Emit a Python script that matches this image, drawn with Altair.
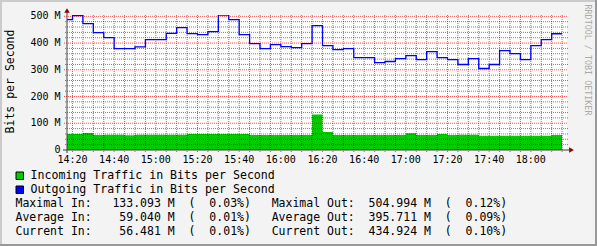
import altair as alt
import pandas as pd

# ---------------- data ----------------
time_labels = [
    "14:15", "14:20", "14:25", "14:30", "14:35", "14:40", "14:45", "14:50", "14:55",
    "15:00", "15:05", "15:10", "15:15", "15:20", "15:25", "15:30", "15:35", "15:40", "15:45", "15:50", "15:55",
    "16:00", "16:05", "16:10", "16:15", "16:20", "16:25", "16:30", "16:35", "16:40", "16:45", "16:50", "16:55",
    "17:00", "17:05", "17:10", "17:15", "17:20", "17:25", "17:30", "17:35", "17:40", "17:45", "17:50", "17:55",
    "18:00", "18:05", "18:10",
]
end_time = "18:15"

out_values = [
    487.6, 503.0, 472.7, 439.0, 420.5, 379.4, 379.4, 385.4, 413.0,
    413.0, 436.5, 457.8, 435.4, 431.7, 443.0, 505.0, 487.6, 431.7, 398.0, 379.4, 394.4,
    386.9, 383.2, 398.0, 465.3, 390.6, 375.7, 379.4, 345.9, 345.9, 327.2, 331.0, 342.1,
    353.3, 338.4, 368.3, 345.9, 338.4, 319.8, 342.1, 304.8, 319.8, 372.0, 360.8, 338.4,
    390.6, 413.0, 434.9,
]
in_values = [
    59.9, 59.9, 63.7, 56.2, 57.5, 57.5, 55.5, 57.5, 57.5,
    57.5, 57.5, 57.5, 59.9, 59.9, 59.9, 59.9, 59.9, 59.9, 56.2, 56.2, 56.2,
    56.2, 56.2, 56.2, 133.1, 67.4, 56.2, 56.2, 56.2, 56.2, 56.2, 56.2, 56.2,
    62.5, 56.2, 56.2, 59.9, 56.2, 57.5, 57.5, 53.6, 53.6, 53.6, 53.6, 53.6,
    53.6, 53.6, 56.5,
]

x_major_labels = ["14:20", "14:40", "15:00", "15:20", "15:40", "16:00",
                  "16:20", "16:40", "17:00", "17:20", "17:40", "18:00"]
y_major_values = [0, 100, 200, 300, 400, 500]
y_major_labels = ["0\u00a0\u00a0", "100 M", "200 M", "300 M", "400 M", "500 M"]

y_title = "Bits per Second"
watermark = "RRDTOOL / TOBI OETIKER"
legend_labels = ["Incoming Traffic in Bits per Second", "Outgoing Traffic in Bits per Second"]
legend_colors = ["#00CC00", "#0000FF"]

stat_names = ["Maximal", "Average", "Current"]
stat_in = [133.093, 59.040, 56.481]
stat_in_pct = [0.03, 0.01, 0.01]
stat_out = [504.994, 395.711, 434.924]
stat_out_pct = [0.12, 0.09, 0.10]

# ---------------- helpers ----------------
def to_min(s):
    h, m = s.split(":")
    return (int(h) - 14) * 60 + int(m)

FONT = "DejaVu Sans Mono"
W, H = 500, 135
x_domain = [17.36, 257.36]
y_domain = [0, 505]

series = pd.DataFrame({
    "t": [to_min(s) for s in time_labels] + [to_min(end_time)],
    "vin": in_values + [in_values[-1]],
    "vout": out_values + [out_values[-1]],
})

xs = alt.Scale(domain=x_domain, nice=False, zero=False)
ys = alt.Scale(domain=y_domain, nice=False, zero=False)

major_x = [to_min(s) for s in x_major_labels]
minor_x = [m for m in range(20, 256, 5) if m not in major_x]
major_y = [v for v in y_major_values if v > 0]
minor_y = [v for v in range(20, 501, 20) if v % 100 != 0]

one = pd.DataFrame({"a": [0]})

layers = []

# incoming area
layers.append(
    alt.Chart(series).mark_area(interpolate="step-after", color="#00CC00", clip=True).encode(
        x=alt.X("t:Q", scale=xs, axis=None),
        y=alt.Y("vin:Q", scale=ys, axis=None),
    )
)

# grid (drawn over the area)
grid_minor = dict(color="black", opacity=0.5, strokeWidth=1, strokeDash=[1, 1])
grid_major = dict(color="#FF0000", opacity=0.7, strokeWidth=1, strokeDash=[1, 1])

layers.append(
    alt.Chart(pd.DataFrame({"t": minor_x})).mark_rule(**grid_minor).encode(
        x=alt.X("t:Q", scale=xs, axis=None), y=alt.value(0), y2=alt.value(H + 2))
)
layers.append(
    alt.Chart(pd.DataFrame({"v": minor_y})).mark_rule(**grid_minor).encode(
        y=alt.Y("v:Q", scale=ys, axis=None), x=alt.value(-2), x2=alt.value(W + 1))
)
layers.append(
    alt.Chart(pd.DataFrame({"t": major_x})).mark_rule(**grid_major).encode(
        x=alt.X("t:Q", scale=xs, axis=None), y=alt.value(0), y2=alt.value(H + 3))
)
layers.append(
    alt.Chart(pd.DataFrame({"v": major_y})).mark_rule(**grid_major).encode(
        y=alt.Y("v:Q", scale=ys, axis=None), x=alt.value(-3), x2=alt.value(W + 1))
)

# outgoing line
layers.append(
    alt.Chart(series).mark_line(interpolate="step-after", color="#0000FF", strokeWidth=1.3, clip=True).encode(
        x=alt.X("t:Q", scale=xs, axis=None),
        y=alt.Y("vout:Q", scale=ys, axis=None),
    )
)

# axis lines and arrows
AX = "#404040"
ARROW = "#8B0000"
layers.append(alt.Chart(one).mark_rule(color=AX, strokeWidth=1).encode(
    x=alt.value(-4), x2=alt.value(W + 2), y=alt.value(H), y2=alt.value(H)))
layers.append(alt.Chart(one).mark_rule(color=AX, strokeWidth=1).encode(
    x=alt.value(0), x2=alt.value(0), y=alt.value(-5), y2=alt.value(H + 3)))
layers.append(alt.Chart(one).mark_point(shape="triangle-up", filled=True, color=ARROW, opacity=1, size=30).encode(
    x=alt.value(0), y=alt.value(-4.5)))
layers.append(alt.Chart(one).mark_point(shape="triangle-right", filled=True, color=ARROW, opacity=1, size=30).encode(
    x=alt.value(W + 4.5), y=alt.value(H)))

# tick labels
layers.append(
    alt.Chart(pd.DataFrame({"t": major_x, "label": x_major_labels})).mark_text(
        font=FONT, fontSize=10, color="black", align="center", baseline="alphabetic").encode(
        x=alt.X("t:Q", scale=xs, axis=None), y=alt.value(H + 13.3), text="label:N")
)
layers.append(
    alt.Chart(pd.DataFrame({"v": y_major_values, "label": y_major_labels})).mark_text(
        font=FONT, fontSize=10, color="black", align="right", baseline="middle").encode(
        y=alt.Y("v:Q", scale=ys, axis=None), x=alt.value(-6.5), text="label:N")
)

# axis title and watermark
layers.append(alt.Chart(one).mark_text(
    text=y_title, font=FONT, fontSize=11.5, color="black", angle=270, align="center", baseline="middle").encode(
    x=alt.value(-56), y=alt.value(66.5)))
layers.append(alt.Chart(one).mark_text(
    text=watermark, font=FONT, fontSize=8.4, color="#aaaaaa", angle=90, align="center", baseline="middle").encode(
    x=alt.value(521), y=alt.value(45)))

# legend rows
for i, (lab, col) in enumerate(zip(legend_labels, legend_colors)):
    yc = 161 + 14 * i
    layers.append(alt.Chart(one).mark_rect(stroke="black", strokeWidth=1, color=col).encode(
        x=alt.value(-51), x2=alt.value(-43.5), y=alt.value(yc - 4), y2=alt.value(yc + 3.5)))
    layers.append(alt.Chart(one).mark_text(
        text=lab, font=FONT, fontSize=11.6, color="black", align="left", baseline="middle").encode(
        x=alt.value(-36.5), y=alt.value(yc)))

# statistics lines
for i, name in enumerate(stat_names):
    line = (f"{name} In: {stat_in[i]:9.3f} M  ({stat_in_pct[i]:6.2f}%)   "
            f"{name} Out:{stat_out[i]:9.3f} M  ({stat_out_pct[i]:6.2f}%)")
    line = line.replace(" ", "\u00a0")
    layers.append(alt.Chart(one).mark_text(
        text=line, font=FONT, fontSize=11.5, color="black", align="left", baseline="middle").encode(
        x=alt.value(-51.5), y=alt.value(189 + 14 * i)))

# outer 3D border
layers.append(alt.Chart(one).mark_rule(color="#CBCBCB", strokeWidth=2).encode(
    x=alt.value(-67), x2=alt.value(530), y=alt.value(-14), y2=alt.value(-14)))
layers.append(alt.Chart(one).mark_rule(color="#CBCBCB", strokeWidth=2).encode(
    x=alt.value(-66), x2=alt.value(-66), y=alt.value(-15), y2=alt.value(231)))
layers.append(alt.Chart(one).mark_rule(color="#999999", strokeWidth=2).encode(
    x=alt.value(-67), x2=alt.value(530), y=alt.value(230), y2=alt.value(230)))
layers.append(alt.Chart(one).mark_rule(color="#999999", strokeWidth=2).encode(
    x=alt.value(529), x2=alt.value(529), y=alt.value(-15), y2=alt.value(231)))

chart = alt.layer(*layers).properties(
    width=W,
    height=H,
    padding={"left": 67, "top": 15, "right": 30, "bottom": 96},
    autosize=alt.AutoSizeParams(type="none"),
    background="#F3F3F3",
).configure_view(fill="white", stroke=None)

chart.save("out.html", embed_options={"renderer": "svg", "actions": False})
